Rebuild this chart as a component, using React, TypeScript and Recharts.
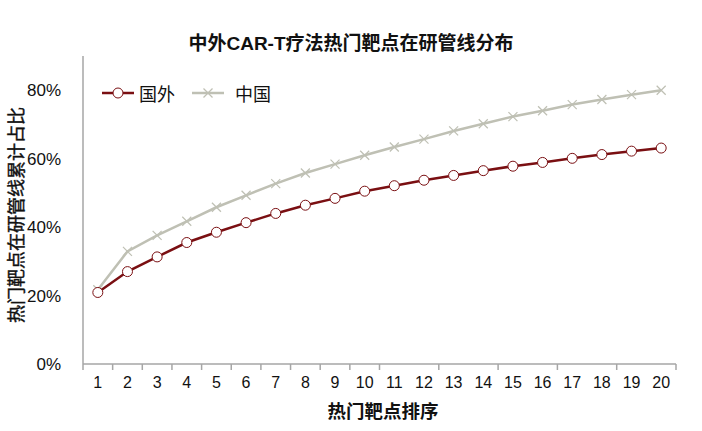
import React from "react"
import { LineChart, Line, XAxis, YAxis } from "recharts"

// 热门靶点排序 1..20
const ranks = [1, 2, 3, 4, 5, 6, 7, 8, 9, 10, 11, 12, 13, 14, 15, 16, 17, 18, 19, 20]
// 国外 累计占比
const foreign = [0.209, 0.27, 0.313, 0.355, 0.385, 0.413, 0.44, 0.464, 0.484, 0.505, 0.521, 0.537, 0.551, 0.565, 0.578, 0.589, 0.601, 0.612, 0.622, 0.631]
// 中国 累计占比
const china = [0.217, 0.329, 0.376, 0.417, 0.458, 0.493, 0.527, 0.558, 0.584, 0.61, 0.634, 0.657, 0.681, 0.702, 0.723, 0.74, 0.758, 0.773, 0.787, 0.8]
const yTicks = [0, 0.2, 0.4, 0.6, 0.8]
// 类别之间的刻度线位置
const boundaryTicks = [0.5, 1.5, 2.5, 3.5, 4.5, 5.5, 6.5, 7.5, 8.5, 9.5, 10.5, 11.5, 12.5, 13.5, 14.5, 15.5, 16.5, 17.5, 18.5, 19.5, 20.5]

const data = ranks.map((r, i) => ({ rank: r, foreign: foreign[i], china: china[i] }))

const FONT = "'Liberation Sans', Arial, 'Noto Sans CJK SC', sans-serif"
const RED = "#7a0f12"
const GRAY = "#bfc0b4"
const AXIS = "#a6a6a6"

const CrossDot = (props: any) => {
  const { cx, cy } = props
  if (cx == null || cy == null) return null
  const s = 4.5
  return (
    <g stroke={GRAY} strokeWidth={1.2}>
      <line x1={cx - s} y1={cy - s} x2={cx + s} y2={cy + s} />
      <line x1={cx - s} y1={cy + s} x2={cx + s} y2={cy - s} />
    </g>
  )
}

export default function App() {
  return (
    <div style={{ position: "absolute", left: 0, top: 0, width: 702, height: 431, background: "#fff", fontFamily: FONT }}>
      <LineChart width={702} height={431} data={data} margin={{ top: 56, right: 26, left: 0, bottom: 26 }}>
        <XAxis
          xAxisId="b"
          dataKey="rank"
          type="number"
          domain={[0.5, 20.5]}
          ticks={ranks}
          interval={0}
          axisLine={false}
          tickLine={false}
          tickMargin={6}
          height={40}
          tick={{ fill: "#111", fontSize: 16, fontFamily: FONT }}
        />
        <XAxis
          xAxisId="a"
          dataKey="rank"
          type="number"
          domain={[0.5, 20.5]}
          ticks={boundaryTicks}
          tick={() => <g />}
          height={1}
          tickSize={6}
          stroke={AXIS}
          axisLine={{ stroke: AXIS, strokeWidth: 1.5 }}
          tickLine={{ stroke: AXIS, strokeWidth: 1.5 }}
        />
        <YAxis
          domain={[0, 0.9]}
          ticks={yTicks}
          width={83}
          tickFormatter={(v: number) => `${Math.round(v * 100)}%`}
          tick={{ fill: "#111", fontSize: 17, fontFamily: FONT }}
          tickLine={false}
          tickMargin={16}
          axisLine={{ stroke: AXIS, strokeWidth: 1.5 }}
        />
        <Line
          xAxisId="b"
          dataKey="china"
          stroke={GRAY}
          strokeWidth={2.5}
          dot={<CrossDot />}
          activeDot={false}
          isAnimationActive={false}
        />
        <Line
          xAxisId="b"
          dataKey="foreign"
          stroke={RED}
          strokeWidth={2.5}
          dot={{ r: 5, fill: "#fff", stroke: RED, strokeWidth: 1 }}
          activeDot={false}
          isAnimationActive={false}
        />
      </LineChart>

      <div style={{ position: "absolute", left: 0, width: 702, top: 28, textAlign: "center", fontSize: 19, fontWeight: "bold", color: "#111", paddingRight: 4 }}>
        中外CAR-T疗法热门靶点在研管线分布
      </div>
      <div style={{ position: "absolute", left: 83, width: 600, top: 397, textAlign: "center", fontSize: 18.5, fontWeight: "bold", color: "#111" }}>
        热门靶点排序
      </div>
      <div
        style={{
          position: "absolute",
          left: 15,
          top: 215,
          transform: "translate(-50%, -50%) rotate(-90deg)",
          whiteSpace: "nowrap",
          fontSize: 18,
          color: "#111",
          WebkitTextStroke: "0.4px #111",
        }}
      >
        热门靶点在研管线累计占比
      </div>

      <div style={{ position: "absolute", left: 101, top: 80, display: "flex", alignItems: "center", fontSize: 18, color: "#111" }}>
        <svg width={34} height={16}>
          <line x1={1} y1={8} x2={33} y2={8} stroke={RED} strokeWidth={2.5} />
          <circle cx={17} cy={8} r={5} fill="#fff" stroke={RED} strokeWidth={1} />
        </svg>
        <span style={{ marginLeft: 4 }}>国外</span>
        <svg width={34} height={16} style={{ marginLeft: 16 }}>
          <line x1={1} y1={8} x2={33} y2={8} stroke={GRAY} strokeWidth={2.5} />
          <line x1={12.5} y1={3.5} x2={21.5} y2={12.5} stroke={GRAY} strokeWidth={1.2} />
          <line x1={12.5} y1={12.5} x2={21.5} y2={3.5} stroke={GRAY} strokeWidth={1.2} />
        </svg>
        <span style={{ marginLeft: 10 }}>中国</span>
      </div>
    </div>
  )
}
